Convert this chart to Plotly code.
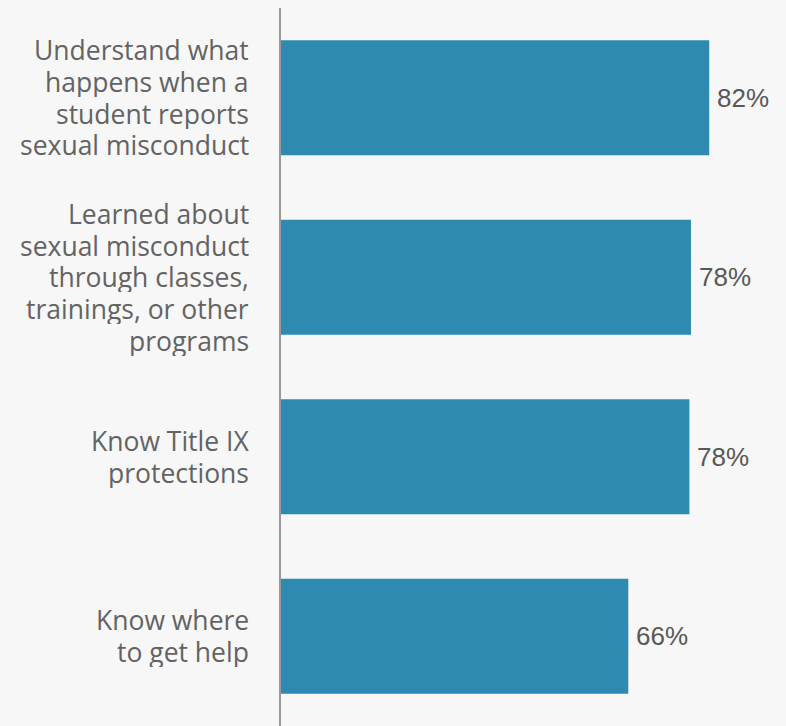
import plotly.graph_objects as go

categories = [
    "Understand what<br>happens when a<br>student reports<br>sexual misconduct",
    "Learned about<br>sexual misconduct<br>through classes,<br>trainings, or other<br>programs",
    "Know Title IX<br>protections",
    "Know where<br>to get help",
]
values = [82.0, 78.5, 78.2, 66.5]
value_labels = ["82%", "78%", "78%", "66%"]

bar_color = "#2e8ab0"
bg = "#f7f7f7"
line_gap = 31.7

fig = go.Figure()
fig.add_trace(go.Bar(
    y=categories,
    x=values,
    orientation="h",
    marker=dict(color=bar_color, line=dict(width=0)),
    hoverinfo="skip",
))

for c, v, t in zip(categories, values, value_labels):
    fig.add_annotation(
        x=v, y=c, text=t, showarrow=False,
        xanchor="left", yanchor="middle", xshift=6,
        font=dict(family="Liberation Sans, Arial, sans-serif", size=26, color="#585858"),
    )
    lines = c.split("<br>")
    n = len(lines)
    for i, ln in enumerate(lines):
        fig.add_annotation(
            x=0, y=c, text=ln, showarrow=False,
            xanchor="right", yanchor="middle", xshift=-30,
            yshift=((n - 1) / 2 - i) * line_gap,
            height=30, valign="middle",
            font=dict(family="Open Sans, Noto Sans, sans-serif", size=26.5, color="#636363", weight=400),
        )

fig.update_layout(
    width=786, height=726,
    paper_bgcolor=bg, plot_bgcolor=bg,
    margin=dict(l=281, r=0, t=8, b=0),
    bargap=0.36,
    showlegend=False,
    xaxis=dict(range=[0, 96.7], visible=False, showgrid=False, zeroline=False, fixedrange=True),
    yaxis=dict(
        autorange="reversed",
        showgrid=False, zeroline=False,
        showline=True, linecolor="#999999", linewidth=2,
        ticks="", showticklabels=False, fixedrange=True,
    ),
)

fig.write_html(
    "out.html",
    config={"displayModeBar": False},
    post_script="document.body.style.margin='0';document.body.style.background='#f7f7f7';",
)
